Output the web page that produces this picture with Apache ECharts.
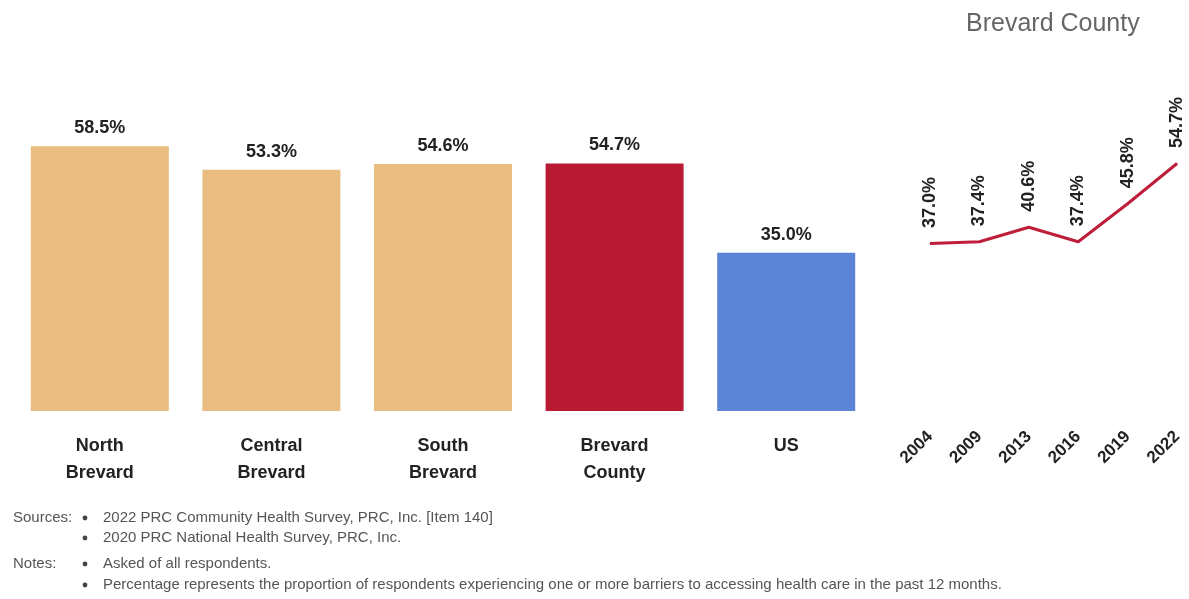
<!DOCTYPE html>
<html>
<head>
<meta charset="utf-8">
<script src="https://cdn.jsdelivr.net/npm/echarts@6/dist/echarts.min.js"></script>
<style>
  html, body { margin: 0; padding: 0; background: #fff; }
  #chart { width: 1189px; height: 599px; }
</style>
</head>
<body>
<div id="chart"></div>
<script>
// Area comparison (bars)
const areaNames = ['North\nBrevard', 'Central\nBrevard', 'South\nBrevard', 'Brevard\nCounty', 'US'];
const areaValues = [58.5, 53.3, 54.6, 54.7, 35.0];
const areaColors = ['#e8bd7f', '#e8bd7f', '#e8bd7f', '#b91a33', '#5b84d6'];

// Brevard County trend (line)
const trendYears = ['2004', '2009', '2013', '2016', '2019', '2022'];
const trendValues = [37.0, 37.4, 40.6, 37.4, 45.8, 54.7];

// Footnotes
const sourceLines = [
  '2022 PRC Community Health Survey, PRC, Inc. [Item 140]',
  '2020 PRC National Health Survey, PRC, Inc.'
];
const noteLines = [
  'Asked of all respondents.',
  'Percentage represents the proportion of respondents experiencing one or more barriers to accessing health care in the past 12 months.'
];

const fontFam = '"Liberation Sans", Arial, sans-serif';
const footFont = '15px ' + fontFam;

const footY = [518, 538, 564, 585];
const footGraphics = [];
footGraphics.push({ type: 'text', left: 13, top: footY[0] - 8, style: { text: 'Sources:', font: footFont, fill: '#555' } });
footGraphics.push({ type: 'text', left: 13, top: footY[2] - 8, style: { text: 'Notes:', font: footFont, fill: '#555' } });
[...sourceLines, ...noteLines].forEach((t, i) => {
  footGraphics.push({ type: 'circle', shape: { cx: 85, cy: footY[i], r: 2.4 }, style: { fill: '#444' } });
  footGraphics.push({ type: 'text', left: 103, top: footY[i] - 8, style: { text: t, font: footFont, fill: '#555' } });
});

const chart = echarts.init(document.getElementById('chart'));
chart.setOption({
  backgroundColor: '#fff',
  animation: false,
  title: {
    text: 'Brevard County',
    left: 961, top: 7,
    textStyle: { color: '#666', fontSize: 25, fontWeight: 'normal', fontFamily: fontFam }
  },
  grid: [
    { left: 14, width: 858, top: 49, height: 362 },
    { left: 930, width: 247, top: 49, height: 362 }
  ],
  xAxis: [
    {
      type: 'category', gridIndex: 0, data: areaNames,
      axisLine: { show: false }, axisTick: { show: false },
      axisLabel: {
        margin: 22, fontSize: 18, fontWeight: 'bold', color: '#222',
        fontFamily: fontFam, lineHeight: 27
      }
    },
    {
      type: 'category', gridIndex: 1, data: trendYears, boundaryGap: false,
      axisLine: { show: false }, axisTick: { show: false },
      axisLabel: {
        margin: 23, rotate: 45, fontSize: 17, fontWeight: 'bold', color: '#222',
        fontFamily: fontFam
      }
    }
  ],
  yAxis: [
    { type: 'value', gridIndex: 0, min: 0, max: 80, show: false },
    { type: 'value', gridIndex: 1, min: 0, max: 80, show: false }
  ],
  series: [
    {
      type: 'bar', xAxisIndex: 0, yAxisIndex: 0, barWidth: 138,
      data: areaValues.map((v, i) => ({ value: v, itemStyle: { color: areaColors[i] } })),
      label: {
        show: true, position: 'top', distance: 9,
        formatter: p => p.value.toFixed(1) + '%',
        fontSize: 18, fontWeight: 'bold', color: '#222', fontFamily: fontFam
      }
    },
    {
      type: 'line', xAxisIndex: 1, yAxisIndex: 1, data: trendValues,
      symbol: 'circle', symbolSize: 1, itemStyle: { color: '#be1e3a' },
      lineStyle: { color: '#be1e3a', width: 3 },
      label: {
        show: true, position: 'top', rotate: 90, distance: 15, offset: [2, 0],
        align: 'left', verticalAlign: 'middle',
        formatter: p => p.value.toFixed(1) + '%',
        fontSize: 18, fontWeight: 'bold', color: '#222', fontFamily: fontFam
      },
      labelLayout: { hideOverlap: false }
    }
  ],
  graphic: footGraphics
});
</script>
</body>
</html>
